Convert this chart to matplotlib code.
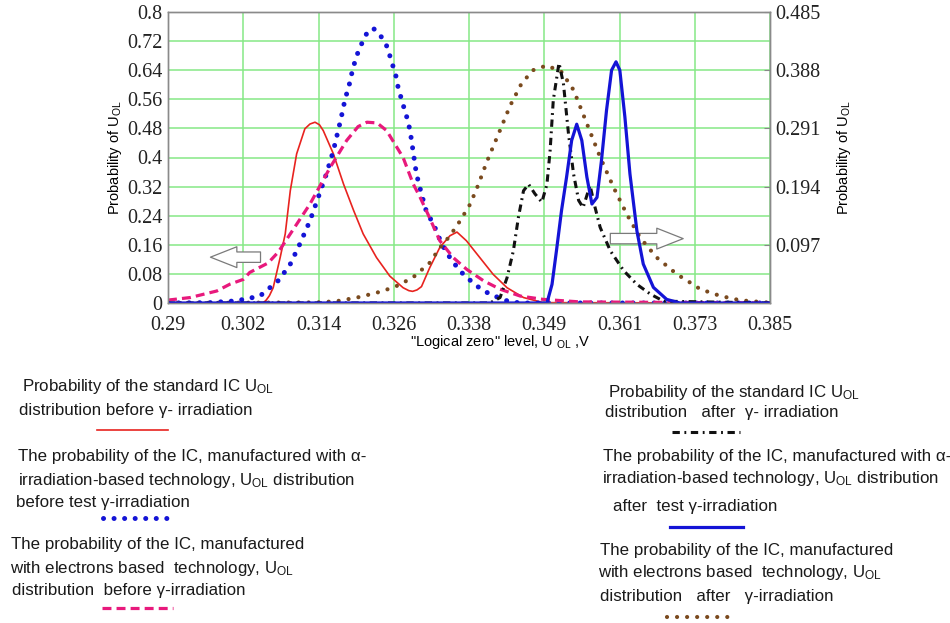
import numpy as np
import matplotlib
matplotlib.use("Agg")
import matplotlib.pyplot as plt
from matplotlib.lines import Line2D

plt.rcParams['font.family'] = ['Liberation Sans', 'DejaVu Sans']
plt.rcParams['mathtext.default'] = 'regular'

# ---- data ----
# left axis (before irradiation)
red_x = [0.2900, 0.3050, 0.3055, 0.3060, 0.3066, 0.3077, 0.3085, 0.3093, 0.3103, 0.3116,
         0.3124, 0.3132, 0.3139, 0.3145, 0.3161, 0.3177, 0.3193, 0.3208, 0.3229, 0.3250,
         0.3271, 0.3280, 0.3286, 0.3293, 0.3300, 0.3313, 0.3329, 0.3345, 0.3356, 0.3371,
         0.3392, 0.3413, 0.3435, 0.3461, 0.3492, 0.3850]
red_y = [0.0, 0.0, 0.008, 0.020, 0.042, 0.125, 0.190, 0.309, 0.410, 0.479,
         0.492, 0.497, 0.490, 0.474, 0.410, 0.327, 0.254, 0.190, 0.125, 0.074,
         0.042, 0.034, 0.032, 0.036, 0.045, 0.097, 0.153, 0.185, 0.195, 0.171,
         0.125, 0.079, 0.042, 0.015, 0.001, 0.0]

bdot_x = [0.2900, 0.2966, 0.3008, 0.3045, 0.3075, 0.3093, 0.3108, 0.3124, 0.3137, 0.3150,
          0.3161, 0.3173, 0.3180, 0.3185, 0.3188, 0.3192, 0.3196, 0.3201, 0.3207, 0.3215,
          0.3224, 0.3233, 0.3241, 0.3248, 0.3251, 0.3256, 0.3260, 0.3263, 0.3267, 0.3271,
          0.3277, 0.3282, 0.3292, 0.3300, 0.3308, 0.3319, 0.3332, 0.3348, 0.3366, 0.3387,
          0.3408, 0.3435, 0.3455, 0.3850]
bdot_y = [0.0, 0.001, 0.006, 0.019, 0.063, 0.107, 0.162, 0.226, 0.290, 0.355,
          0.419, 0.507, 0.565, 0.591, 0.617, 0.645, 0.670, 0.695, 0.718, 0.746,
          0.755, 0.741, 0.720, 0.697, 0.672, 0.646, 0.622, 0.594, 0.569, 0.545,
          0.510, 0.474, 0.355, 0.300, 0.250, 0.217, 0.162, 0.116, 0.079, 0.047,
          0.024, 0.006, 0.0, 0.0]

pink_x = [0.2900, 0.2935, 0.2977, 0.2998, 0.3019, 0.3029, 0.3058, 0.3074, 0.3093, 0.3124,
          0.3156, 0.3182, 0.3200, 0.3214, 0.3230, 0.3245, 0.3271, 0.3287, 0.3298, 0.3310,
          0.3329, 0.3350, 0.3371, 0.3398, 0.3424, 0.3456, 0.3492, 0.3550, 0.3850]
pink_y = [0.008, 0.015, 0.033, 0.052, 0.065, 0.084, 0.110, 0.140, 0.190, 0.272,
          0.373, 0.447, 0.485, 0.497, 0.495, 0.474, 0.400, 0.327, 0.290, 0.245,
          0.171, 0.125, 0.093, 0.061, 0.038, 0.019, 0.010, 0.003, 0.0]

# right axis (after irradiation)
brown_x = [0.2900, 0.3135, 0.3166, 0.3198, 0.3229, 0.3256, 0.3266, 0.3287, 0.3313, 0.3329,
           0.3345, 0.3361, 0.3377, 0.3390, 0.3403, 0.3424, 0.3440, 0.3458, 0.3476, 0.3498,
           0.3521, 0.3540, 0.3561, 0.3582, 0.3603, 0.3624, 0.3645, 0.3671, 0.3703, 0.3724,
           0.3740, 0.3771, 0.3803, 0.3850]
brown_y = [0.0, 0.001, 0.003, 0.009, 0.017, 0.026, 0.031, 0.043, 0.067, 0.092,
           0.112, 0.137, 0.165, 0.198, 0.235, 0.288, 0.329, 0.366, 0.388, 0.396,
           0.385, 0.355, 0.299, 0.243, 0.193, 0.148, 0.109, 0.076, 0.048, 0.034,
           0.023, 0.012, 0.0045, 0.0005]

black_x = [0.2900, 0.3408, 0.3424, 0.3435, 0.3445, 0.3453, 0.3461, 0.3469, 0.3479, 0.3490,
           0.3498, 0.3503, 0.3508, 0.3517, 0.3524, 0.3532, 0.3540, 0.3548, 0.3555, 0.3566,
           0.3574, 0.3582, 0.3598, 0.3619, 0.3640, 0.3661, 0.3682, 0.3850]
black_y = [0.0, 0.0, 0.009, 0.042, 0.087, 0.143, 0.187, 0.198, 0.182, 0.168,
           0.198, 0.254, 0.338, 0.400, 0.366, 0.282, 0.215, 0.171, 0.159, 0.196,
           0.159, 0.126, 0.087, 0.054, 0.031, 0.015, 0.003, 0.0]

bsol_x = [0.2900, 0.3498, 0.3506, 0.3513, 0.3521, 0.3529, 0.3537, 0.3545, 0.3553, 0.3561,
          0.3569, 0.3577, 0.3584, 0.3592, 0.3600, 0.3607, 0.3613, 0.3621, 0.3629, 0.3640,
          0.3650, 0.3666, 0.3687, 0.3708, 0.3850]
bsol_y = [0.0, 0.0, 0.031, 0.087, 0.154, 0.210, 0.271, 0.298, 0.271, 0.210,
          0.165, 0.176, 0.237, 0.321, 0.388, 0.402, 0.388, 0.310, 0.215, 0.120,
          0.065, 0.026, 0.006, 0.0, 0.0]

x_ticklabels = ['0.29', '0.302', '0.314', '0.326', '0.338', '0.349', '0.361', '0.373', '0.385']
left_ticks = [0, 0.08, 0.16, 0.24, 0.32, 0.4, 0.48, 0.56, 0.64, 0.72, 0.8]
left_labels = ['0', '0.08', '0.16', '0.24', '0.32', '0.4', '0.48', '0.56', '0.64', '0.72', '0.8']
right_ticks = [0.097, 0.194, 0.291, 0.388, 0.485]
right_labels = ['0.097', '0.194', '0.291', '0.388', '0.485']

# ---- styles ----
RED = '#e8231f'
BLUE = '#1414d6'
PINK = '#e8197c'
BROWN = '#7a4a1e'
BLACK = '#111111'
GRID = '#86e886'

dot_blue = dict(color=BLUE, lw=3.6, linestyle=(0, (0.01, 2.1)), dash_capstyle='round')
dot_brown = dict(color=BROWN, lw=3.0, linestyle=(0, (0.01, 2.4)), dash_capstyle='round')
dash_pink = dict(color=PINK, lw=2.3, linestyle=(0, (2.8, 1.6)))
dashdot_blk = dict(color=BLACK, lw=2.2, linestyle=(0, (2.4, 1.5, 0.6, 1.5)))
solid_red = dict(color=RED, lw=1.2)
solid_blue = dict(color=BLUE, lw=2.3)

fig = plt.figure(figsize=(9.5, 6.23), dpi=100)
ax = fig.add_axes([168 / 950, 1 - 303 / 623, 602 / 950, 291 / 623])
ax2 = ax.twinx()

ax.plot(red_x, red_y, **solid_red)
ax.plot(bdot_x, bdot_y, **dot_blue)
ax.plot(pink_x, pink_y, **dash_pink)
ax2.plot(brown_x, brown_y, **dot_brown)
ax2.plot(black_x, black_y, **dashdot_blk)
ax2.plot(bsol_x, bsol_y, **solid_blue)

xticks = np.linspace(0.29, 0.385, 9)
ax.set_xlim(0.29, 0.385)
ax.set_ylim(0, 0.8)
ax2.set_ylim(0, 0.485)
ax.set_xticks(xticks)
ax.set_xticklabels(x_ticklabels)
ax.set_yticks(left_ticks)
ax.set_yticklabels(left_labels)
ax2.set_yticks(right_ticks)
ax2.set_yticklabels(right_labels)
ax.grid(True, color=GRID, lw=1.1)
ax.set_axisbelow(True)

for lab in ax.get_xticklabels() + ax.get_yticklabels() + ax2.get_yticklabels():
    lab.set_fontfamily('Liberation Serif')
    lab.set_fontsize(14.5)
    lab.set_color('#222222')
ax.tick_params(axis='y', length=0, pad=4)
ax.tick_params(axis='x', length=0, pad=9)
ax2.tick_params(axis='y', length=4, direction='in', color='#888888', pad=4)
for a in (ax, ax2):
    for s in a.spines.values():
        s.set_color('#8a8a8a')
        s.set_linewidth(1.0)

ax.set_ylabel('Probability of U$_{OL}$', fontsize=10.5, labelpad=2)
ax2.set_ylabel('Probability of U$_{OL}$', fontsize=10.5, labelpad=10)
fig.text(500 / 950, 1 - 342 / 623, '"Logical zero" level, U $_{OL}$ ,V',
         ha='center', va='center', fontsize=10.5)

# hollow arrows pointing to the matching axis
arrow_style = 'simple,head_length=1.9,head_width=1.5,tail_width=0.75'
ax.annotate('', xy=(0.2967, 0.126), xytext=(0.3046, 0.126),
            arrowprops=dict(arrowstyle=arrow_style, fc='white', ec='#7a7a7a', lw=0.9,
                            shrinkA=0, shrinkB=0, mutation_scale=10))
ax.annotate('', xy=(0.3713, 0.177), xytext=(0.3598, 0.177),
            arrowprops=dict(arrowstyle=arrow_style, fc='white', ec='#7a7a7a', lw=0.9,
                            shrinkA=0, shrinkB=0, mutation_scale=10))

# ---- legend blocks below the plot ----
legend_blocks = [
    (['Probability of the standard IC U$_{OL}$',
      'distribution before \u03b3- irradiation'],
     [22, 19], [387, 411], (97, 168, 430), solid_red),
    (['The probability of the IC, manufactured with \u03b1-',
      'irradiation-based technology, U$_{OL}$ distribution',
      'before test \u03b3-irradiation'],
     [18, 18, 16], [457, 480, 503], (103, 172, 518), dot_blue),
    (['The probability of the IC, manufactured',
      'with electrons based  technology, U$_{OL}$',
      'distribution  before \u03b3-irradiation'],
     [11, 10, 12], [545, 568, 590], (102, 173, 608), dash_pink),
    (['Probability of the standard IC U$_{OL}$',
      'distribution   after  \u03b3- irradiation'],
     [608, 605], [392, 412], (672, 740, 432), dashdot_blk),
    (['The probability of the IC, manufactured with \u03b1-',
      'irradiation-based technology, U$_{OL}$ distribution',
      'after  test \u03b3-irradiation'],
     [603, 602, 613], [457, 479, 506], (670, 743, 527), solid_blue),
    (['The probability of the IC, manufactured',
      'with electrons based  technology, U$_{OL}$',
      'distribution   after   \u03b3-irradiation'],
     [600, 598, 600], [550, 572, 597], (667, 733, 617), dot_brown),
]

for lines, xs, ys, sample, style in legend_blocks:
    for txt, x, y in zip(lines, xs, ys):
        fig.text(x / 950, 1 - y / 623, txt, ha='left', va='center',
                 fontsize=12.2, color='#1a1a1a')
    x0, x1, yl = sample
    fig.add_artist(Line2D([x0 / 950, x1 / 950], [1 - yl / 623, 1 - yl / 623],
                          transform=fig.transFigure, **style))

fig.savefig('out.png', dpi=100)
